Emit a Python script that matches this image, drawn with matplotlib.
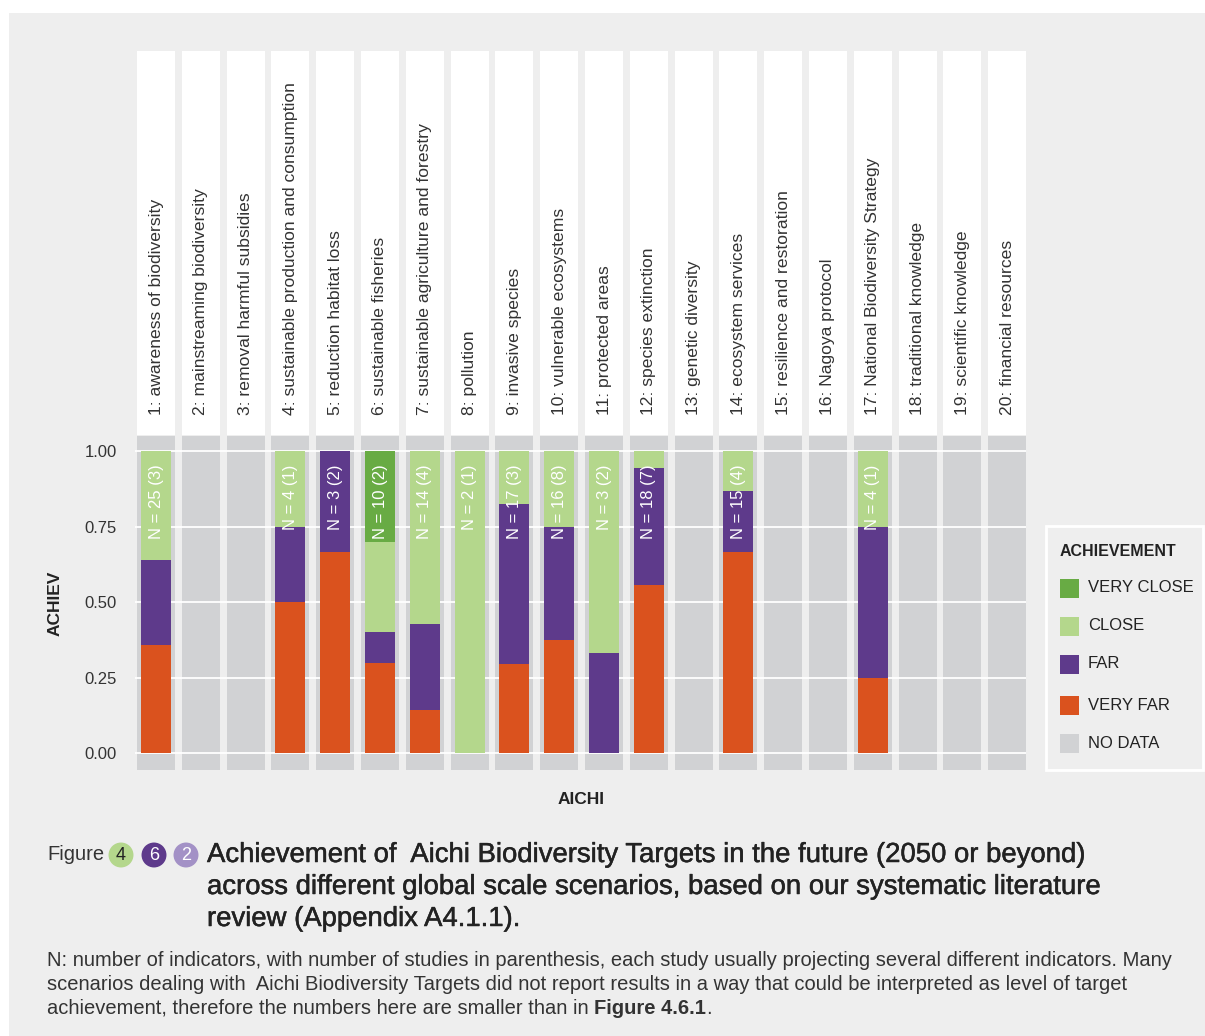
import numpy as np
import matplotlib
matplotlib.use('Agg')
import matplotlib.pyplot as plt
from matplotlib.patches import Rectangle
import matplotlib.patheffects as pe

plt.rcParams['font.family'] = ['Liberation Sans', 'DejaVu Sans']

#Aichi targets (facet labels)
targets = ['1: awareness of biodiversity', '2: mainstreaming biodiversity',
           '3: removal harmful subsidies', '4: sustainable production and consumption',
           '5: reduction habitat loss', '6: sustainable fisheries',
           '7: sustainable agriculture and forestry', '8: pollution',
           '9: invasive species', '10: vulnerable ecosystems', '11: protected areas',
           '12: species extinction', '13: genetic diversity', '14: ecosystem services',
           '15: resilience and restoration', '16: Nagoya protocol',
           '17: National Biodiversity Strategy', '18: traditional knowledge',
           '19: scientific knowledge', '20: financial resources']

#number of indicators per achievement class
very_far   = [9, 0, 0, 2, 2, 3, 2, 0, 5, 6, 0, 10, 0, 10, 0, 0, 1, 0, 0, 0]
far        = [7, 0, 0, 1, 1, 1, 4, 0, 9, 6, 1, 7, 0, 3, 0, 0, 2, 0, 0, 0]
close      = [9, 0, 0, 1, 0, 3, 8, 2, 3, 4, 2, 1, 0, 2, 0, 0, 1, 0, 0, 0]
very_close = [0, 0, 0, 0, 0, 3, 0, 0, 0, 0, 0, 0, 0, 0, 0, 0, 0, 0, 0, 0]
n_studies  = [3, 0, 0, 1, 2, 2, 4, 1, 3, 8, 2, 7, 0, 4, 0, 0, 1, 0, 0, 0]

classes = ['VERY CLOSE', 'CLOSE', 'FAR', 'VERY FAR', 'NO DATA']
colors = {'VERY CLOSE': '#68ab44', 'CLOSE': '#b4d78c', 'FAR': '#5e3a8b',
          'VERY FAR': '#da521e', 'NO DATA': '#d1d2d4'}
yticks = [0.0, 0.25, 0.5, 0.75, 1.0]

W, H = 1205, 1036
BG = '#eeeeee'
TXT = '#333333'

def fx(x):
    return x / W

def fy(y):
    return 1 - y / H

fig = plt.figure(figsize=(W / 100, H / 100), dpi=100, facecolor='white')
fig.patches.append(Rectangle((fx(9), 0), 1 - fx(9), fy(13), transform=fig.transFigure,
                             fc=BG, ec='none', zorder=-10))

#panel geometry (pixels)
p_top, p_bot = 436, 770
s_top, s_bot = 51, 435
x_first, pitch, pw = 137, 44.8, 38
ylim = (-0.055, 1.05)

#axis spanning all panels: gridlines through the gaps and y tick labels
gax = fig.add_axes([fx(135), fy(p_bot), (1025 - 135) / W, (p_bot - p_top) / H], zorder=0)
gax.set_facecolor('none')
gax.set_ylim(ylim)
gax.set_xlim(0, 1)
for s in gax.spines.values():
    s.set_visible(False)
for t in yticks:
    gax.axhline(t, color='white', lw=1.3)
gax.set_xticks([])
gax.set_yticks(yticks)
gax.set_yticklabels(['%.2f' % t for t in yticks])
gax.tick_params(axis='y', length=0, pad=13, labelsize=12, labelcolor=TXT)

for i, lab in enumerate(targets):
    x0 = x_first + pitch * i

    #strip with rotated target name
    sax = fig.add_axes([fx(x0), fy(s_bot), pw / W, (s_bot - s_top) / H], zorder=1)
    sax.set_facecolor('white')
    sax.set_xticks([]); sax.set_yticks([])
    for s in sax.spines.values():
        s.set_visible(False)
    sax.text(0.5, 0.052, lab, rotation=90, ha='center', va='bottom',
             fontsize=12.6, color=TXT, transform=sax.transAxes)

    #panel
    ax = fig.add_axes([fx(x0), fy(p_bot), pw / W, (p_bot - p_top) / H], zorder=1)
    ax.set_facecolor(colors['NO DATA'])
    ax.set_xlim(-0.6, 0.6)
    ax.set_ylim(ylim)
    ax.set_xticks([]); ax.set_yticks([])
    for s in ax.spines.values():
        s.set_visible(False)
    for t in yticks:
        ax.axhline(t, color='white', lw=1.3, zorder=0.5)

    n = very_far[i] + far[i] + close[i] + very_close[i]
    if n == 0:
        continue
    bottom = 0.0
    for cls, vals in [('VERY FAR', very_far), ('FAR', far), ('CLOSE', close),
                      ('VERY CLOSE', very_close)]:
        h = vals[i] / n
        if h > 0:
            ax.bar(0, h, width=0.95, bottom=bottom, color=colors[cls], zorder=2)
        bottom += h
    ax.text(0, 0.955, 'N = %d (%d)' % (n, n_studies[i]), rotation=90, ha='center',
            va='top', color='white', fontsize=12, zorder=3)

#axis titles
fig.text(fx(55), fy(603), 'ACHIEV', rotation=90, ha='center', va='center',
         fontsize=12.5, fontweight='bold', color='#222222')
fig.text(fx(581), fy(799), 'AICHI', ha='center', va='center',
         fontsize=12.5, fontweight='bold', color='#222222')

#legend
fig.patches.append(Rectangle((fx(1046), fy(770)), (1203 - 1046) / W, (770 - 526) / H,
                             transform=fig.transFigure, fc=BG, ec='white', lw=2))
fig.text(fx(1060), fy(551), 'ACHIEVEMENT', ha='left', va='center', fontsize=11.5,
         fontweight='bold', color='#222222')
leg_y = [588, 626, 664, 705, 743]
for cls, yy in zip(classes, leg_y):
    fig.patches.append(Rectangle((fx(1060), fy(yy + 9.5)), 19 / W, 19 / H,
                                 transform=fig.transFigure, fc=colors[cls], ec='none'))
    fig.text(fx(1088), fy(yy), cls, ha='left', va='center', fontsize=12, color='#222222')

#caption
fig.text(fx(47), fy(855), 'Figure', ha='left', va='center', fontsize=14.5, color=TXT)
for xx, num, fc, tc in [(121, '4', '#b4d78c', '#222222'), (154, '6', '#5e3a8b', 'white'),
                        (186, '2', '#a391c6', 'white')]:
    fig.text(fx(xx), fy(855), num, ha='center', va='center', fontsize=13, color=tc,
             bbox=dict(boxstyle='circle,pad=0.22', fc=fc, ec='none'))

title = ['Achievement of  Aichi Biodiversity Targets in the future (2050 or beyond)',
         'across different global scale scenarios, based on our systematic literature',
         'review (Appendix A4.1.1).']
for k, line in enumerate(title):
    fig.text(fx(207), fy(855 + 32 * k), line, ha='left', va='center', fontsize=19.8,
             color='#222222',
             path_effects=[pe.withStroke(linewidth=0.35, foreground='#222222')])

note = ['N: number of indicators, with number of studies in parenthesis, each study usually '
        'projecting several different indicators. Many',
        'scenarios dealing with  Aichi Biodiversity Targets did not report results in a way '
        'that could be interpreted as level of target',
        'achievement, therefore the numbers here are smaller than in ']
for k, line in enumerate(note):
    t = fig.text(fx(47), fy(960 + 24 * k), line, ha='left', va='center', fontsize=14.5,
                 color=TXT)

#bold figure reference appended to the last note line
renderer = fig.canvas.get_renderer()
bb = t.get_window_extent(renderer=renderer)
tb = fig.text(bb.x1 / W, fy(1008), 'Figure 4.6.1', ha='left', va='center', fontsize=14.5,
              fontweight='bold', color=TXT)
bb2 = tb.get_window_extent(renderer=renderer)
fig.text(bb2.x1 / W, fy(1008), '.', ha='left', va='center', fontsize=14.5, color=TXT)

fig.savefig('out.png', dpi=100, facecolor=fig.get_facecolor())
